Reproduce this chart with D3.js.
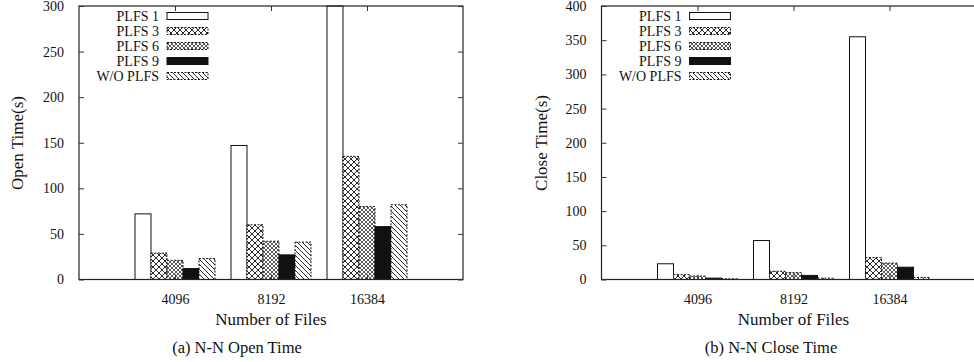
<!DOCTYPE html>
<html>
<head>
<meta charset="utf-8">
<script src="https://cdn.jsdelivr.net/npm/d3@7"></script>
<style>
  body { margin: 0; background: #fff; }
  svg { display: block; font-family: 'Liberation Serif', 'Times New Roman', serif; }
</style>
</head>
<body>
<svg id="chart" width="974" height="362"></svg>
<script>
// categories and series
const categories = ['4096', '8192', '16384'];
const seriesNames = ['PLFS 1', 'PLFS 3', 'PLFS 6', 'PLFS 9', 'W/O PLFS'];

// (a) open time, seconds
const openPlfs1 = [72, 147, 300];
const openPlfs3 = [29, 60, 135];
const openPlfs6 = [21, 42, 80];
const openPlfs9 = [12, 27, 58];
const openWoPlfs = [23, 41, 82];

// (b) close time, seconds
const closePlfs1 = [23, 57, 355];
const closePlfs3 = [7, 12, 32];
const closePlfs6 = [5, 10, 24];
const closePlfs9 = [2, 6, 18];
const closeWoPlfs = [1, 2, 3];

const openTicks = [0, 50, 100, 150, 200, 250, 300];
const closeTicks = [0, 50, 100, 150, 200, 250, 300, 350, 400];

const svg = d3.select('#chart');
const defs = svg.append('defs');

// gnuplot-like fill patterns
function makePattern(id, size, paths, sw) {
  const p = defs.append('pattern')
    .attr('id', id)
    .attr('patternUnits', 'userSpaceOnUse')
    .attr('width', size)
    .attr('height', size);
  p.append('rect').attr('width', size).attr('height', size).attr('fill', '#fff');
  paths.forEach(d => {
    p.append('path').attr('d', d).attr('stroke', '#111').attr('stroke-width', sw).attr('fill', 'none');
  });
}
makePattern('bigcross', 6, ['M0,0L6,6', 'M6,0L0,6', 'M-1,5L1,7', 'M5,-1L7,1'], 0.9);
makePattern('finecross', 4, ['M0,0L4,4', 'M4,0L0,4', 'M-1,3L1,5', 'M3,-1L5,1'], 0.7);
makePattern('backslash', 5, ['M0,0L5,5', 'M-1,4L1,6', 'M4,-1L6,1'], 0.9);

const fills = ['#fff', 'url(#bigcross)', 'url(#finecross)', '#111', 'url(#backslash)'];
const dashes = [null, '2,1.5', '2,1.5', null, '2,1.5'];

function drawPanel(cfg) {
  const g = svg.append('g');
  const x = d3.scaleLinear().domain([-1, 3]).range([cfg.left, cfg.left + 384]);
  const y = d3.scaleLinear().domain([0, cfg.ymax]).range([279.5, 6]);
  const bw = 1 / 6;

  // bars
  cfg.series.forEach((vals, j) => {
    g.append('g')
      .selectAll('rect')
      .data(vals)
      .join('rect')
      .attr('x', (d, i) => x(i + (j - 2) * bw - bw / 2))
      .attr('width', x(bw) - x(0))
      .attr('y', d => y(d))
      .attr('height', d => y(0) - y(d))
      .attr('fill', fills[j])
      .attr('stroke', '#111')
      .attr('stroke-width', 1)
      .attr('stroke-dasharray', dashes[j]);
  });

  // frame
  g.append('rect')
    .attr('x', x(-1)).attr('y', y(cfg.ymax))
    .attr('width', x(3) - x(-1)).attr('height', y(0) - y(cfg.ymax))
    .attr('fill', 'none').attr('stroke', '#222').attr('stroke-width', 1.2);

  // y axis (ticks inside, mirrored)
  const yAxis = d3.axisLeft(y).tickValues(cfg.ticks).tickSize(-5).tickPadding(15);
  const ya = g.append('g').attr('transform', `translate(${x(-1)},0)`).call(yAxis);
  const yr = g.append('g').attr('transform', `translate(${x(3)},0)`)
    .call(d3.axisRight(y).tickValues(cfg.ticks).tickSize(-5).tickFormat(''));
  // x axis
  const xAxis = d3.axisBottom(x).tickValues([0, 1, 2]).tickSize(-5).tickPadding(15)
    .tickFormat(i => categories[i]);
  const xa = g.append('g').attr('transform', `translate(0,${y(0)})`).call(xAxis);
  const xt = g.append('g').attr('transform', `translate(0,${y(cfg.ymax)})`)
    .call(d3.axisTop(x).tickValues([0, 1, 2]).tickSize(-5).tickFormat(''));

  [ya, yr, xa, xt].forEach(a => {
    a.select('.domain').remove();
    a.selectAll('.tick line').attr('stroke', '#333');
    a.selectAll('text').attr('font-size', 14).attr('fill', '#111')
      .attr('font-family', "'Liberation Serif', serif");
  });

  // labels
  g.append('text')
    .attr('transform', `translate(${cfg.ylabelX},143) rotate(-90)`)
    .attr('text-anchor', 'middle').attr('dominant-baseline', 'central')
    .attr('font-size', 17).attr('fill', '#111')
    .text(cfg.ylabel);
  g.append('text')
    .attr('x', (x(-1) + x(3)) / 2).attr('y', 325)
    .attr('text-anchor', 'middle').attr('font-size', 17).attr('fill', '#111')
    .text('Number of Files');
  g.append('text')
    .attr('x', cfg.captionX).attr('y', 353)
    .attr('text-anchor', 'middle').attr('font-size', 16.5).attr('fill', '#111')
    .text(cfg.caption);

  // legend
  const lg = g.append('g');
  seriesNames.forEach((name, j) => {
    const ry = 16 + j * 15;
    lg.append('text')
      .attr('x', cfg.left + 80).attr('y', ry)
      .attr('text-anchor', 'end').attr('dominant-baseline', 'central')
      .attr('font-size', 14).attr('fill', '#111')
      .text(name);
    lg.append('rect')
      .attr('x', cfg.left + 88).attr('y', ry - 3.5)
      .attr('width', 41).attr('height', 7)
      .attr('fill', fills[j]).attr('stroke', '#111').attr('stroke-width', 1)
      .attr('stroke-dasharray', dashes[j]);
  });
}

drawPanel({
  left: 79, ymax: 300, ticks: openTicks,
  series: [openPlfs1, openPlfs3, openPlfs6, openPlfs9, openWoPlfs],
  ylabel: 'Open Time(s)', ylabelX: 17,
  caption: '(a) N-N Open Time', captionX: 237
});
drawPanel({
  left: 601.5, ymax: 400, ticks: closeTicks,
  series: [closePlfs1, closePlfs3, closePlfs6, closePlfs9, closeWoPlfs],
  ylabel: 'Close Time(s)', ylabelX: 541,
  caption: '(b) N-N Close Time', captionX: 771
});
</script>
</body>
</html>
